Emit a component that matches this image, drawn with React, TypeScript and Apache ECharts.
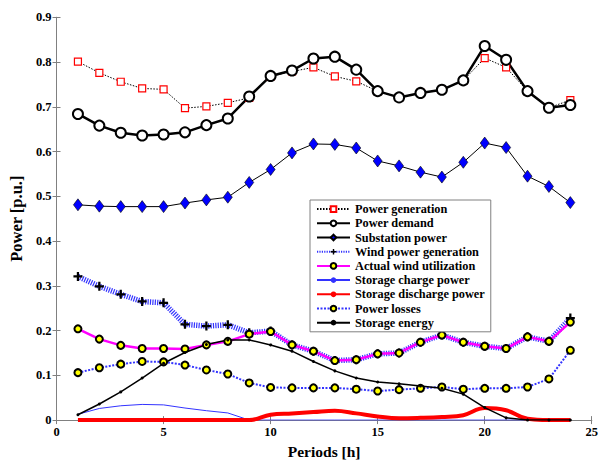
import React, { useEffect, useRef } from "react";
import * as echarts from "echarts";

const hours = [1, 2, 3, 4, 5, 6, 7, 8, 9, 10, 11, 12, 13, 14, 15, 16, 17, 18, 19, 20, 21, 22, 23, 24];

const powerGeneration = [0.801, 0.776, 0.756, 0.741, 0.739, 0.697, 0.701, 0.709, 0.72, 0.768, 0.779, 0.788, 0.768, 0.757, 0.735, 0.721, 0.731, 0.738, 0.759, 0.809, 0.788, 0.735, 0.698, 0.715];
const powerDemand = [0.684, 0.658, 0.642, 0.636, 0.638, 0.643, 0.659, 0.674, 0.723, 0.769, 0.781, 0.808, 0.812, 0.783, 0.735, 0.721, 0.731, 0.738, 0.759, 0.836, 0.805, 0.735, 0.698, 0.704];
const substationPower = [0.481, 0.478, 0.477, 0.477, 0.477, 0.485, 0.492, 0.498, 0.531, 0.56, 0.597, 0.617, 0.616, 0.608, 0.579, 0.568, 0.554, 0.543, 0.576, 0.619, 0.609, 0.545, 0.522, 0.486];
const windGeneration = [0.321, 0.299, 0.281, 0.265, 0.262, 0.214, 0.21, 0.213, 0.195, 0.199, 0.168, 0.154, 0.133, 0.135, 0.148, 0.15, 0.174, 0.19, 0.174, 0.165, 0.16, 0.186, 0.176, 0.228];
const actualWind = [0.204, 0.181, 0.167, 0.16, 0.16, 0.159, 0.168, 0.176, 0.192, 0.198, 0.168, 0.154, 0.133, 0.135, 0.148, 0.15, 0.174, 0.19, 0.174, 0.165, 0.16, 0.186, 0.176, 0.219];
const storageCharge = [0.013, 0.026, 0.032, 0.035, 0.034, 0.027, 0.021, 0.016, 0, 0, 0, 0, 0, 0, 0, 0, 0, 0, 0, 0, 0, 0, 0, 0];
const storageDischarge = [0, 0, 0, 0, 0, 0, 0, 0, 0, 0.012, 0.015, 0.018, 0.021, 0.015, 0.008, 0.004, 0.005, 0.007, 0.011, 0.027, 0.022, 0.003, 0, 0];
const powerLosses = [0.106, 0.117, 0.125, 0.131, 0.13, 0.123, 0.112, 0.103, 0.083, 0.073, 0.072, 0.072, 0.072, 0.069, 0.065, 0.068, 0.071, 0.074, 0.069, 0.071, 0.071, 0.074, 0.092, 0.156];
const storageEnergy = [0.012, 0.036, 0.063, 0.094, 0.127, 0.151, 0.169, 0.179, 0.179, 0.168, 0.154, 0.131, 0.11, 0.094, 0.085, 0.081, 0.076, 0.071, 0.058, 0.028, 0.005, 0, 0, 0];

const FONT = "Liberation Serif";
const pair = (arr: number[]) => hours.map((h, i) => [h, arr[i]]);
const PLUS = "path://M3,0H5V3H8V5H5V8H3V5H0V3H3Z";

export default function App() {
  const ref = useRef<HTMLDivElement>(null);
  useEffect(() => {
    document.body.style.margin = "0";
    const chart = echarts.init(ref.current!, null, { renderer: "svg" });
    const axisCommon = {
      axisLine: { show: true, lineStyle: { color: "#808080", width: 1 } },
      axisTick: { show: true, inside: true, length: 4, lineStyle: { color: "#808080" } },
      splitLine: { show: false },
    };
    const labelStyle = { color: "#000", fontFamily: FONT, fontWeight: "bold" as const, fontSize: 12.5 };
    chart.setOption({
      animation: false,
      backgroundColor: "#fff",
      textStyle: { fontFamily: FONT },
      grid: { left: 50.7, right: 5.5, top: 17.3, bottom: 35, show: false },
      xAxis: [
        {
          type: "value", min: 0, max: 25, interval: 5, position: "bottom",
          ...axisCommon,
          axisLabel: { ...labelStyle, margin: 5 },
          name: "Periods [h]", nameLocation: "middle", nameGap: 20,
          nameTextStyle: { color: "#000", fontFamily: FONT, fontWeight: "bold", fontSize: 15.5 },
        },
        {
          type: "value", min: 0, max: 25, interval: 5, position: "top",
          ...axisCommon, axisLabel: { show: false },
        },
      ],
      yAxis: [
        {
          type: "value", min: 0, max: 0.9, interval: 0.1, position: "left",
          ...axisCommon,
          axisLabel: { ...labelStyle, margin: 5, formatter: (v: number) => (v === 0 ? "0" : v.toFixed(1)) },
          name: "Power [p.u.]", nameLocation: "middle", nameGap: 22.5,
          nameTextStyle: { color: "#000", fontFamily: FONT, fontWeight: "bold", fontSize: 16.5 },
        },
        {
          type: "value", min: 0, max: 0.9, interval: 0.1, position: "right",
          ...axisCommon, axisLabel: { show: false },
        },
      ],
      legend: {
        orient: "vertical", left: 310, top: 200,
        itemWidth: 33, itemHeight: 7, itemGap: 2, padding: [3, 6, 3, 6],
        backgroundColor: "#fff", borderColor: "#808080", borderWidth: 1,
        textStyle: { color: "#000", fontFamily: FONT, fontWeight: "bold", fontSize: 12.3, lineHeight: 12.2 },
      },
      series: [
        {
          name: "Power generation", type: "line", data: pair(powerGeneration),
          lineStyle: { color: "#000", width: 1, type: [1.5, 1.5] },
          symbol: "rect", symbolSize: 7,
          itemStyle: { color: "#fff", borderColor: "#ff0000", borderWidth: 1.2 },
        },
        {
          name: "Power demand", type: "line", data: pair(powerDemand),
          lineStyle: { color: "#000", width: 2.5 },
          symbol: "circle", symbolSize: 10,
          itemStyle: { color: "#fff", borderColor: "#000", borderWidth: 2 },
        },
        {
          name: "Substation power", type: "line", data: pair(substationPower),
          lineStyle: { color: "#000", width: 1 },
          symbol: "diamond", symbolSize: [9, 12],
          itemStyle: { color: "#0000ff", borderColor: "#000", borderWidth: 0.6 },
        },
        {
          name: "Wind power generation", type: "line", data: pair(windGeneration),
          lineStyle: { color: "#3333ff", width: 5.5, type: [1.2, 1.2] },
          symbol: PLUS, symbolSize: 9,
          itemStyle: { color: "#000", borderWidth: 0 },
        },
        {
          name: "Actual wind utilization", type: "line", data: pair(actualWind),
          lineStyle: { color: "#ff00ff", width: 2.5 },
          symbol: "circle", symbolSize: 7,
          itemStyle: { color: "#ffff00", borderColor: "#000", borderWidth: 2 },
        },
        {
          name: "Storage charge power", type: "line", data: pair(storageCharge),
          lineStyle: { color: "#3333ff", width: 1 },
          symbol: "none", itemStyle: { color: "#3333ff" },
        },
        {
          name: "Storage discharge power", type: "line", data: pair(storageDischarge),
          lineStyle: { color: "#ff0000", width: 4 }, smooth: 0.4,
          symbol: "none", itemStyle: { color: "#ff0000" },
        },
        {
          name: "Power losses", type: "line", data: pair(powerLosses),
          lineStyle: { color: "#3333ff", width: 2, type: [2, 1.5] },
          symbol: "circle", symbolSize: 7,
          itemStyle: { color: "#ffff00", borderColor: "#000", borderWidth: 2 },
        },
        {
          name: "Storage energy", type: "line", data: pair(storageEnergy),
          lineStyle: { color: "#000", width: 1.5 },
          symbol: "circle", symbolSize: 3,
          itemStyle: { color: "#000", borderWidth: 0 },
        },
      ],
    });
    return () => chart.dispose();
  }, []);
  return <div ref={ref} style={{ width: 601, height: 464 }} />;
}
